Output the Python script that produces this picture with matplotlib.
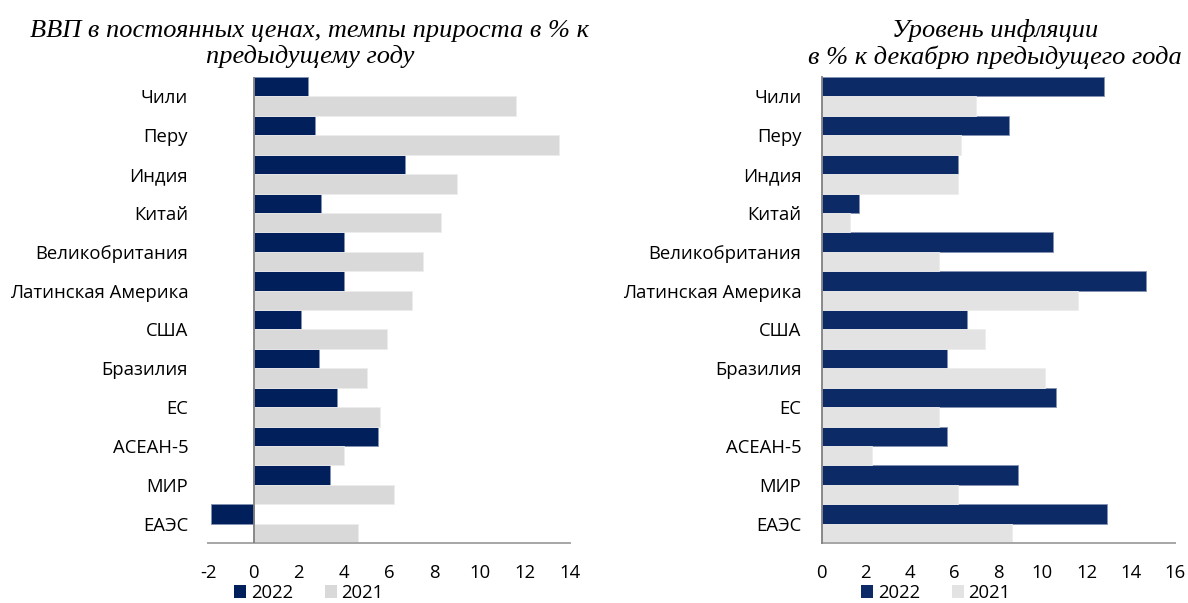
import matplotlib
matplotlib.use("Agg")
import matplotlib.pyplot as plt
from matplotlib.patches import Patch
import numpy as np

categories = ["Чили", "Перу", "Индия", "Китай", "Великобритания", "Латинская Америка",
              "США", "Бразилия", "ЕС", "АСЕАН-5", "МИР", "ЕАЭС"]
gdp_2022 = [2.4, 2.7, 6.7, 3.0, 4.0, 4.0, 2.1, 2.9, 3.7, 5.5, 3.4, -1.9]
gdp_2021 = [11.6, 13.5, 9.0, 8.3, 7.5, 7.0, 5.9, 5.0, 5.6, 4.0, 6.2, 4.6]
inf_2022 = [12.8, 8.5, 6.2, 1.7, 10.5, 14.7, 6.6, 5.7, 10.6, 5.7, 8.9, 12.9]
inf_2021 = [7.0, 6.3, 6.2, 1.3, 5.3, 11.6, 7.4, 10.1, 5.3, 2.3, 6.2, 8.6]
gdp_ticks = [-2, 0, 2, 4, 6, 8, 10, 12, 14]
inf_ticks = [0, 2, 4, 6, 8, 10, 12, 14, 16]
series_labels = ["2022", "2021"]
title_gdp = "ВВП в постоянных ценах, темпы прироста в % к\nпредыдущему году"
title_inf = "Уровень инфляции\nв % к декабрю предыдущего года"

W, H = 1188, 603
fig = plt.figure(figsize=(W / 100, H / 100), dpi=100)
plt.rcParams['font.family'] = ['Open Sans', 'DejaVu Sans']

def px_axes(x0, x1, ytop, ybot):
    return fig.add_axes([x0 / W, (H - ybot) / H, (x1 - x0) / W, (ybot - ytop) / H])

FS = 13.3

def draw(ax, v22, v21, xlim, ticks, c22, c21, zero_line):
    y = np.arange(len(categories))
    ax.barh(y - 0.25, v22, height=0.5, color=c22, edgecolor="#8392B3", linewidth=0.6, zorder=2)
    ax.barh(y + 0.25, v21, height=0.5, color=c21, edgecolor="#EDEDED", linewidth=0.6, zorder=2)
    ax.set_ylim(len(categories) - 0.5, -0.5)
    ax.set_xlim(*xlim)
    ax.set_yticks(y)
    ax.set_yticklabels(categories, fontsize=FS)
    ax.set_xticks(ticks)
    ax.set_xticklabels([str(t) for t in ticks], fontsize=FS)
    ax.tick_params(axis='y', length=0, pad=14.5)
    ax.tick_params(axis='x', length=0, pad=15)
    for s in ["top", "right"]:
        ax.spines[s].set_visible(False)
    ax.spines["bottom"].set_color("#A6A6A6")
    ax.spines["bottom"].set_linewidth(1.4)
    if zero_line:
        ax.spines["left"].set_visible(False)
        ax.axvline(0, color="#808080", linewidth=1.3, zorder=3)
    else:
        ax.spines["left"].set_color("#808080")
        ax.spines["left"].set_linewidth(1.3)
        ax.spines["left"].set_zorder(3)

ax1 = px_axes(208.3, 570.0, 77, 543)
draw(ax1, gdp_2022, gdp_2021, (-2, 14), gdp_ticks, "#001F5B", "#D9D9D9", True)
ax2 = px_axes(821.5, 1175.0, 77, 543)
draw(ax2, inf_2022, inf_2021, (0, 16), inf_ticks, "#0C2A65", "#E3E3E3", False)

fig.text(310 / W, 1 - 44 / H, title_gdp, ha="center", va="center", fontsize=19,
         family="Liberation Serif", style="italic", linespacing=1.22)
fig.text(995 / W, 1 - 44 / H, title_inf, ha="center", va="center", fontsize=19,
         family="Liberation Serif", style="italic", linespacing=1.22)

def legend(xc, c22, c21):
    handles = [Patch(facecolor=c22, edgecolor="none"), Patch(facecolor=c21, edgecolor="none")]
    fig.legend(handles, series_labels, loc="center", bbox_to_anchor=(xc / W, 1 - 593 / H),
               ncol=2, frameon=False, fontsize=FS, handlelength=0.65, handleheight=0.65,
               handletextpad=0.25, columnspacing=1.7, borderpad=0, borderaxespad=0)

legend(309, "#001F5B", "#D9D9D9")
legend(936, "#0C2A65", "#E3E3E3")

fig.savefig("out.png", dpi=100)
